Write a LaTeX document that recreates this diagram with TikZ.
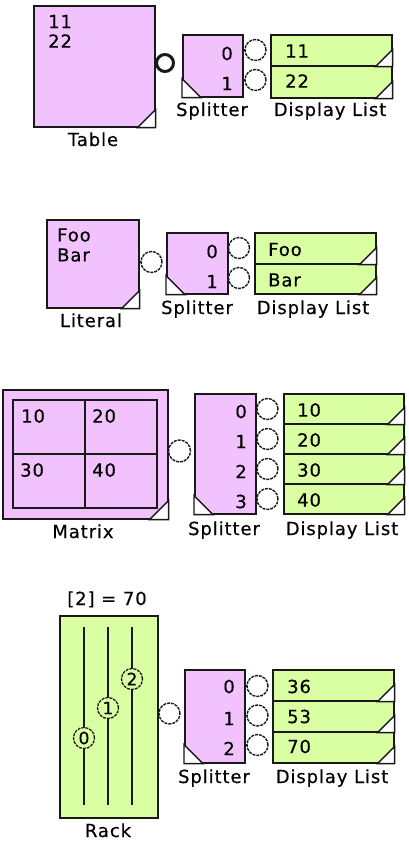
\documentclass[tikz,border=0pt]{standalone}
\usepackage{fontspec}
\setmainfont{DejaVu Sans}[LetterSpace=5,FakeBold=0.4]
\definecolor{pinkc}{RGB}{242,194,255}
\definecolor{greenc}{RGB}{218,255,162}
\definecolor{edge}{RGB}{25,25,25}
\begin{document}
\begin{tikzpicture}[x=1pt,y=-1pt,
 box/.style={draw=edge,line width=1.6pt,inner sep=0pt,anchor=north west},
 pinkbox/.style={box,fill=pinkc},
 greenbox/.style={box,fill=greenc},
 tri/.style={fill=white,draw=edge,line width=1.4pt,line join=miter},
 port/.style={circle,draw=edge,line width=1.4pt,dash pattern=on 3pt off 1pt,minimum size=21pt,inner sep=0pt,fill=white},
 boldport/.style={circle,draw=edge,line width=3pt,minimum size=17pt,inner sep=0pt,fill=white},
 knob/.style={circle,draw=edge,line width=1.3pt,dash pattern=on 3pt off 1pt,minimum size=21pt,inner sep=0pt,fill=greenc,font=\fontsize{17}{18}\selectfont},
 stub/.style={draw=edge,line width=1.2pt},
 lbl/.style={anchor=base,inner sep=0pt,font=\fontsize{18}{20}\selectfont},
 txt/.style={anchor=west,inner sep=0pt,font=\fontsize{18}{20}\selectfont},
 num/.style={anchor=east,inner sep=0pt,font=\fontsize{18}{20}\selectfont},
 rackline/.style={draw=edge,line width=1.6pt},
]
\useasboundingbox (0,0) rectangle (409,845);
\fill[white] (0,0) rectangle (409,845);

% ---------- Section 1: Table ----------
\node[pinkbox,minimum width=121pt,minimum height=121pt] (table) at (33,5) {};
\path[tri] (table.south east) -- ++(-18pt,0pt) -- ++(18pt,18pt) -- cycle;
\node[txt] (t11) at (48,21.5) {11};
\node[txt] (t22) at (48,41) {22};
\node[lbl] (tablelbl) at (93,146) {Table};
\node[boldport] (tp) at (165,63) {};
\node[pinkbox,minimum width=60pt,minimum height=62pt] (s1) at (182,34) {};
\path[tri] (s1.south west) -- ++(19pt,0pt) -- ++(-19pt,19pt) -- cycle;
\node[num] (s1n0) at (233,53.5) {0};
\node[num] (s1n1) at (233,83.5) {1};
\node[lbl] (s1lbl) at (212,116) {Splitter};
\node[port] (s1p0) at (255.5,50) {};
\node[port] (s1p1) at (255.5,80) {};
\draw[stub] (s1.east |- s1p0) -- (s1p0.west);
\draw[stub] (s1.east |- s1p1) -- (s1p1.west);
\node[greenbox,minimum width=121pt,minimum height=31pt] (d1a) at (270,34) {};
\node[greenbox,minimum width=121pt,minimum height=32pt] (d1b) at (270,65) {};
\path[tri] (d1a.south east) -- ++(-17pt,0pt) -- ++(17pt,17pt) -- cycle;
\path[tri] (d1b.south east) -- ++(-17pt,0pt) -- ++(17pt,17pt) -- cycle;
\node[txt] (d1t0) at (285,51) {11};
\node[txt] (d1t1) at (285,81) {22};
\node[lbl] (d1lbl) at (330,116) {Display List};

% ---------- Section 2: Literal ----------
\node[pinkbox,minimum width=92pt,minimum height=88pt] (lit) at (46,219) {};
\path[tri] (lit.south east) -- ++(-18pt,0pt) -- ++(18pt,18pt) -- cycle;
\node[txt] (lfoo) at (57,235) {Foo};
\node[txt] (lbar) at (57,255) {Bar};
\node[lbl] (litlbl) at (91,327) {Literal};
\node[port] (lp) at (151.5,262) {};
\draw[stub] (lit.east |- lp) -- (lp.west);
\node[pinkbox,minimum width=61pt,minimum height=61pt] (s2) at (166,232) {};
\path[tri] (s2.south west) -- ++(19pt,0pt) -- ++(-19pt,19pt) -- cycle;
\node[num] (s2n0) at (218,251.5) {0};
\node[num] (s2n1) at (218,281.5) {1};
\node[lbl] (s2lbl) at (197,314) {Splitter};
\node[port] (s2p0) at (239,248) {};
\node[port] (s2p1) at (239,278) {};
\draw[stub] (s2.east |- s2p0) -- (s2p0.west);
\draw[stub] (s2.east |- s2p1) -- (s2p1.west);
\node[greenbox,minimum width=121pt,minimum height=31pt] (d2a) at (254,232) {};
\node[greenbox,minimum width=121pt,minimum height=30pt] (d2b) at (254,263) {};
\path[tri] (d2a.south east) -- ++(-17pt,0pt) -- ++(17pt,17pt) -- cycle;
\path[tri] (d2b.south east) -- ++(-17pt,0pt) -- ++(17pt,17pt) -- cycle;
\node[txt] (d2t0) at (268,249.5) {Foo};
\node[txt] (d2t1) at (268,280) {Bar};
\node[lbl] (d2lbl) at (313,314) {Display List};

% ---------- Section 3: Matrix ----------
\node[pinkbox,minimum width=165pt,minimum height=129pt] (mat) at (2,389) {};
\node[box,minimum width=144pt,minimum height=108pt] (grid) at (12,399) {};
\draw[rackline] (grid.north) -- (grid.south);
\draw[rackline] (grid.west) -- (grid.east);
\path[tri] (mat.south east) -- ++(-19pt,0pt) -- ++(19pt,19pt) -- cycle;
\node[txt] (m10) at (21,416) {10};
\node[txt] (m20) at (92,416) {20};
\node[txt] (m30) at (20,470) {30};
\node[txt] (m40) at (92,470) {40};
\node[lbl] (matlbl) at (83,538) {Matrix};
\node[port,minimum size=22pt] (mp) at (179.5,451) {};
\draw[stub] (mat.east |- mp) -- (mp.west);
\node[pinkbox,minimum width=61pt,minimum height=120pt] (s3) at (194,393) {};
\path[tri] (s3.south west) -- ++(19pt,0pt) -- ++(-19pt,19pt) -- cycle;
\node[num] (s3n0) at (247,411.5) {0};
\node[num] (s3n1) at (247,441.5) {1};
\node[num] (s3n2) at (247,471.5) {2};
\node[num] (s3n3) at (247,501.5) {3};
\node[lbl] (s3lbl) at (224,535) {Splitter};
\node[port] (s3p0) at (267.5,409) {};
\node[port] (s3p1) at (267.5,439) {};
\node[port] (s3p2) at (267.5,469) {};
\node[port] (s3p3) at (267.5,499) {};
\draw[stub] (s3.east |- s3p0) -- (s3p0.west);
\draw[stub] (s3.east |- s3p1) -- (s3p1.west);
\draw[stub] (s3.east |- s3p2) -- (s3p2.west);
\draw[stub] (s3.east |- s3p3) -- (s3p3.west);
\node[greenbox,minimum width=120pt,minimum height=30pt] (d3a) at (283,393) {};
\node[greenbox,minimum width=120pt,minimum height=30pt] (d3b) at (283,423) {};
\node[greenbox,minimum width=120pt,minimum height=30pt] (d3c) at (283,453) {};
\node[greenbox,minimum width=120pt,minimum height=30pt] (d3d) at (283,483) {};
\path[tri] (d3a.south east) -- ++(-17pt,0pt) -- ++(17pt,17pt) -- cycle;
\path[tri] (d3b.south east) -- ++(-17pt,0pt) -- ++(17pt,17pt) -- cycle;
\path[tri] (d3c.south east) -- ++(-17pt,0pt) -- ++(17pt,17pt) -- cycle;
\path[tri] (d3d.south east) -- ++(-17pt,0pt) -- ++(17pt,17pt) -- cycle;
\node[txt] (d3t0) at (297,410) {10};
\node[txt] (d3t1) at (297,440) {20};
\node[txt] (d3t2) at (297,470) {30};
\node[txt] (d3t3) at (297,500) {40};
\node[lbl] (d3lbl) at (342,535) {Display List};

% ---------- Section 4: Rack ----------
\node[lbl] (racktop) at (107,605) {[2] = 70};
\node[greenbox,minimum width=98pt,minimum height=202pt] (rack) at (59,615) {};
\coordinate (r0t) at (84,627);  \coordinate (r0b) at (84,805);
\coordinate (r1t) at (108,627); \coordinate (r1b) at (108,805);
\coordinate (r2t) at (132,627); \coordinate (r2b) at (132,805);
\draw[rackline] (r0t) -- (r0b);
\draw[rackline] (r1t) -- (r1b);
\draw[rackline] (r2t) -- (r2b);
\node[knob] (k0) at (84,738) {0};
\node[knob] (k1) at (108,708) {1};
\node[knob] (k2) at (132,679) {2};
\node[lbl] (racklbl) at (108,837) {Rack};
\node[port] (rp) at (169.5,713.5) {};
\draw[stub] (rack.east |- rp) -- (rp.west);
\node[pinkbox,minimum width=60pt,minimum height=93pt] (s4) at (184,669) {};
\path[tri] (s4.south west) -- ++(19pt,0pt) -- ++(-19pt,19pt) -- cycle;
\node[num] (s4n0) at (235,686.5) {0};
\node[num] (s4n1) at (235,718.5) {1};
\node[num] (s4n2) at (235,748.5) {2};
\node[lbl] (s4lbl) at (214,783) {Splitter};
\node[port] (s4p0) at (257.5,686) {};
\node[port] (s4p1) at (257.5,715.5) {};
\node[port] (s4p2) at (257.5,745) {};
\draw[stub] (s4.east |- s4p0) -- (s4p0.west);
\draw[stub] (s4.east |- s4p1) -- (s4p1.west);
\draw[stub] (s4.east |- s4p2) -- (s4p2.west);
\node[greenbox,minimum width=121pt,minimum height=31pt] (d4a) at (272,669) {};
\node[greenbox,minimum width=121pt,minimum height=31pt] (d4b) at (272,700) {};
\node[greenbox,minimum width=121pt,minimum height=31pt] (d4c) at (272,731) {};
\path[tri] (d4a.south east) -- ++(-17pt,0pt) -- ++(17pt,17pt) -- cycle;
\path[tri] (d4b.south east) -- ++(-17pt,0pt) -- ++(17pt,17pt) -- cycle;
\path[tri] (d4c.south east) -- ++(-17pt,0pt) -- ++(17pt,17pt) -- cycle;
\node[txt] (d4t0) at (287,686.5) {36};
\node[txt] (d4t1) at (287,716.5) {53};
\node[txt] (d4t2) at (287,746.5) {70};
\node[lbl] (d4lbl) at (332,783) {Display List};
\end{tikzpicture}
\end{document}
